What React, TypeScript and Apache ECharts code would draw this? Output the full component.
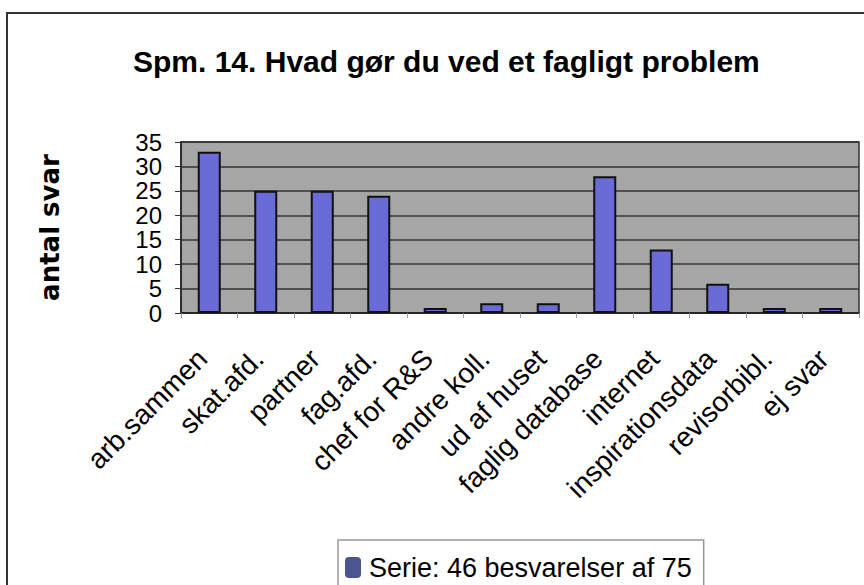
import React, { useEffect, useRef } from "react";
import * as echarts from "echarts";

const titleText = "Spm. 14. Hvad gør du ved et fagligt problem";
const yAxisName = "antal svar";
const seriesName = "Serie: 46 besvarelser af 75";
const categories = [
  "arb.sammen",
  "skat.afd.",
  "partner",
  "fag.afd.",
  "chef for R&S",
  "andre koll.",
  "ud af huset",
  "faglig database",
  "internet",
  "inspirationsdata",
  "revisorbibl.",
  "ej svar",
];
const values = [33, 25, 25, 24, 1, 2, 2, 28, 13, 6, 1, 1];
const yMin = 0;
const yMax = 35;
const yStep = 5;

export default function App() {
  const ref = useRef<HTMLDivElement>(null);
  useEffect(() => {
    if (!ref.current) return;
    const chart = echarts.init(ref.current, undefined, { renderer: "svg" });
    chart.setOption({
      animation: false,
      backgroundColor: "#ffffff",
      title: {
        text: titleText,
        left: 133,
        top: 46,
        padding: 0,
        textStyle: {
          fontFamily: "Liberation Sans, Arial, sans-serif",
          fontWeight: "bold",
          fontSize: 30,
          color: "#000",
        },
      },
      graphic: [
        {
          type: "rect",
          shape: { x: 7, y: 13, width: 900, height: 620 },
          style: { fill: "none", stroke: "#333", lineWidth: 2 },
          silent: true,
          z: 100,
        },
      ],
      legend: {
        left: 338,
        top: 540,
        padding: [14, 12, 12, 7],
        itemGap: 0,
        itemWidth: 16,
        itemHeight: 21,
        borderColor: "#999",
        borderWidth: 1.5,
        icon: "roundRect",
        data: [{ name: seriesName, itemStyle: { color: "#4d5590", borderWidth: 0 } }],
        textStyle: {
          fontFamily: "Liberation Sans, Arial, sans-serif",
          fontSize: 27,
          color: "#000",
          padding: [0, 0, 0, 3],
        },
      },
      grid: {
        left: 181,
        right: 5,
        top: 142,
        bottom: 272,
        show: true,
        backgroundColor: "#a6a6a6",
        borderColor: "#333",
        borderWidth: 1.5,
      },
      xAxis: {
        type: "category",
        data: categories,
        axisLine: { show: true, lineStyle: { color: "#222", width: 1.5 } },
        axisTick: { show: true, length: 5, lineStyle: { color: "#999" } },
        axisLabel: {
          rotate: 45,
          margin: 34,
          interval: 0,
          padding: [0, 10, 0, 0],
          fontFamily: "Liberation Sans, Arial, sans-serif",
          fontSize: 28,
          color: "#000",
        },
      },
      yAxis: {
        type: "value",
        min: yMin,
        max: yMax,
        interval: yStep,
        name: yAxisName,
        nameLocation: "middle",
        nameRotate: 90,
        nameGap: 118,
        nameTextStyle: {
          fontFamily: "DejaVu Sans, sans-serif",
          fontWeight: "bold",
          fontSize: 26,
          color: "#000",
        },
        axisLine: { show: true, lineStyle: { color: "#222", width: 1.5 } },
        axisTick: { show: true, length: 6, lineStyle: { color: "#333" } },
        splitLine: { show: true, lineStyle: { color: "#333", width: 1.5 } },
        axisLabel: {
          margin: 19,
          showMinLabel: true,
          showMaxLabel: true,
          fontFamily: "Liberation Sans, Arial, sans-serif",
          fontSize: 24,
          color: "#000",
        },
      },
      series: [
        {
          name: seriesName,
          type: "bar",
          data: values,
          barWidth: 23,
          itemStyle: { color: "#6b6bd8", borderColor: "#111", borderWidth: 2 },
        },
      ],
    });
    return () => chart.dispose();
  }, []);
  return (
    <div
      ref={ref}
      style={{ position: "fixed", left: 0, top: 0, width: 864, height: 585 }}
    />
  );
}
